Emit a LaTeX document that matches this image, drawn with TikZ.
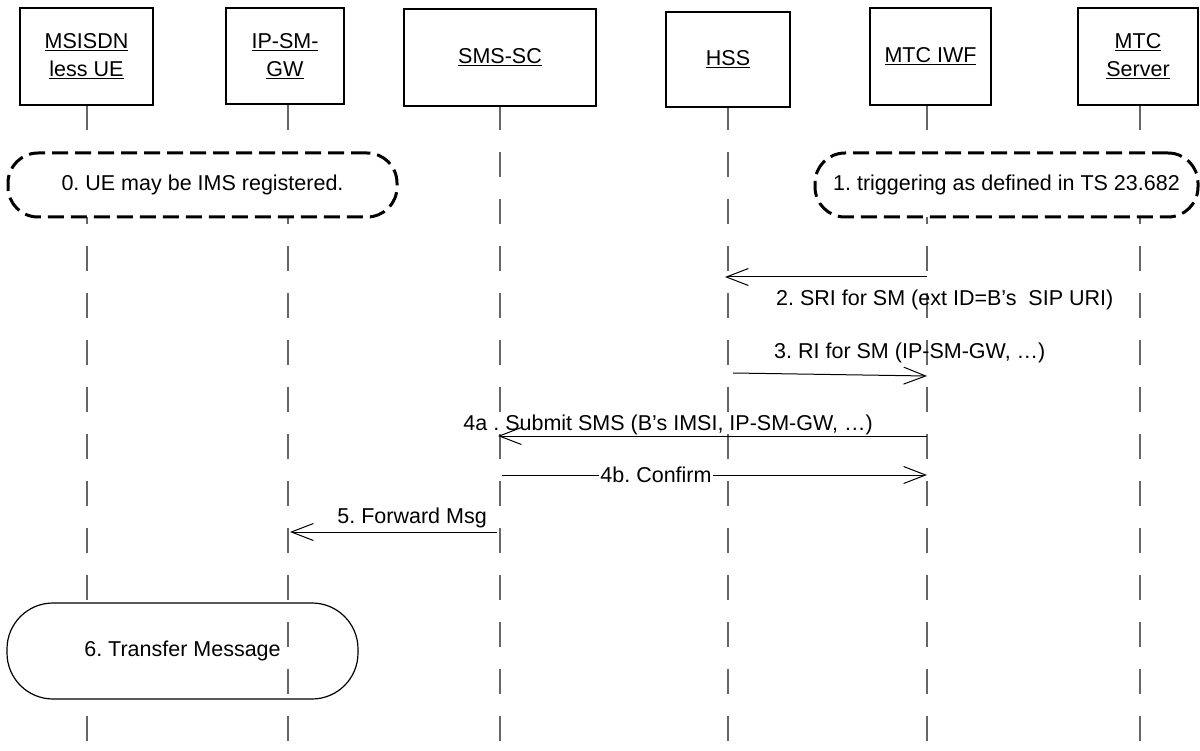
\documentclass[tikz,border=0pt]{standalone}
\usepackage{fontspec}
\setmainfont{Liberation Sans}
\usetikzlibrary{arrows.meta}
\frenchspacing
\begin{document}
\begin{tikzpicture}[x=1pt,y=-1pt,
  every node/.style={font=\fontsize{21.5}{28}\selectfont\frenchspacing},
  head/.style={draw,line width=1.3pt,fill=white,align=center,inner sep=0pt},
  life/.style={draw=black!60,line width=1.1pt,dash pattern=on 25pt off 22pt},
  phase/.style={draw,line width=3pt,dash pattern=on 16pt off 7pt,fill=white,rounded corners=30pt,inner sep=0pt},
  proc/.style={draw,line width=1.2pt,fill=white,rounded corners=46pt,inner sep=0pt},
  msg/.style={draw,line width=1pt,-{Straight Barb[length=22pt,width=17pt]}},
  lbl/.style={inner sep=0pt}]
\useasboundingbox (0,0) rectangle (1200,751);

% lifeline end points
\coordinate (ueT) at (87,105);   \coordinate (ueB) at (87,751);
\coordinate (gwT) at (288,105);  \coordinate (gwB) at (288,751);
\coordinate (scT) at (500,105);  \coordinate (scB) at (500,751);
\coordinate (hsT) at (728,105);  \coordinate (hsB) at (728,751);
\coordinate (iwT) at (927,105);  \coordinate (iwB) at (927,751);
\coordinate (svT) at (1140,105); \coordinate (svB) at (1140,751);

\draw[life] (ueT) -- (ueB);
\draw[life] (scT) -- (scB);
\draw[life] (hsT) -- (hsB);
\draw[life] (iwT) -- (iwB);
\draw[life] (svT) -- (svB);

% step 6 box (IP-SM-GW lifeline drawn over it)
\node[proc,minimum width=351pt,minimum height=96pt] (p6) at (182.5,651) {6. Transfer Message};
\draw[life] (gwT) -- (gwB);

% dashed phase boxes
\node[phase,minimum width=389pt,minimum height=64pt] (p0) at (202.5,185) {0. UE may be IMS registered.};
\node[phase,minimum width=383pt,minimum height=64pt] (p1) at (1006.5,185) {1. triggering as defined in TS 23.682};

% head boxes
\node[head,minimum width=133pt,minimum height=97pt] (ue) at (86.5,56.5) {\underline{MSISDN}\\\underline{less UE}};
\node[head,minimum width=118pt,minimum height=96pt] (gw) at (285,56) {\underline{IP-SM-}\\\underline{GW}};
\node[head,minimum width=192pt,minimum height=97pt] (sc) at (500,57.5) {\underline{SMS-SC}};
\node[head,minimum width=124pt,minimum height=95pt] (hs) at (728,59.5) {\underline{HSS}};
\node[head,minimum width=121pt,minimum height=97pt] (iw) at (930.5,56.5) {\underline{MTC IWF}};
\node[head,minimum width=120pt,minimum height=97pt] (sv) at (1138,56.5) {\underline{MTC}\\\underline{Server}};

% messages
\coordinate (m2a) at (927,277); \coordinate (m2b) at (725,277);
\draw[msg] (m2a) -- (m2b);
\node[lbl,anchor=base west] (t2) at (776,306) {2. SRI for SM (ext ID=B’s\ \ SIP URI)};

\coordinate (m3a) at (733,373); \coordinate (m3b) at (927,376);
\draw[msg] (m3a) -- (m3b);
\node[lbl,anchor=base west] (t3) at (774,359) {3. RI for SM (IP-SM-GW, …)};

\coordinate (m4a) at (927,436); \coordinate (m4b) at (498,436);
\draw[msg] (m4a) -- (m4b);
\node[lbl,anchor=base east] (t4a) at (873,430) {4a . Submit SMS (B’s IMSI, IP-SM-GW, …)};

\coordinate (m4c) at (502,475); \coordinate (m4d) at (927,475);
\draw[msg] (m4c) -- (m4d);
\node[lbl,fill=white,inner xsep=1pt] (t4b) at (656,475) {4b. Confirm};

\coordinate (m5a) at (497,532); \coordinate (m5b) at (290,532);
\draw[msg] (m5a) -- (m5b);
\node[lbl,anchor=base east] (t5) at (487,523) {5. Forward Msg};
\end{tikzpicture}
\end{document}
